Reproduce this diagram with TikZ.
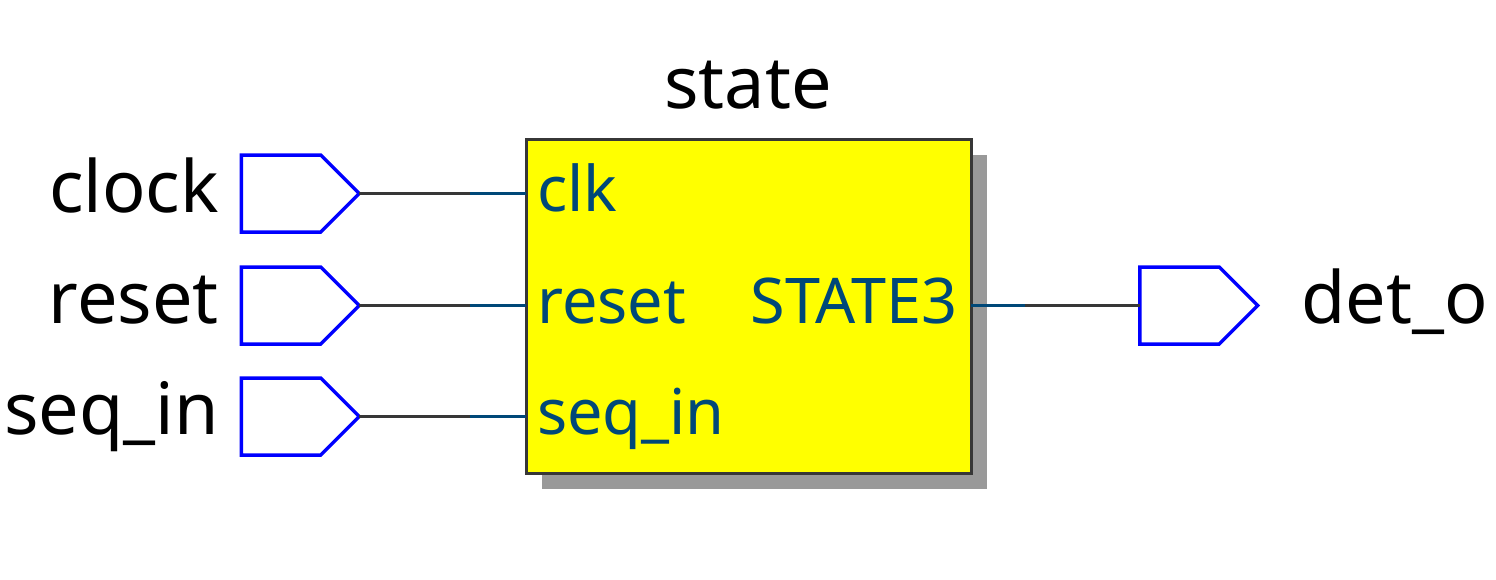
\documentclass[tikz,border=0pt]{standalone}
\usepackage{fontspec}
\setmainfont{Noto Sans}
\usetikzlibrary{shapes.symbols,positioning}
\definecolor{pinblue}{RGB}{0,0,255}
\definecolor{portblue}{RGB}{0,72,120}
\definecolor{wiregrey}{RGB}{55,55,55}
\definecolor{blkyellow}{RGB}{255,255,0}

\begin{document}
\begin{tikzpicture}[x=1pt,y=-1pt,
  pin/.style={draw=pinblue,line width=3.5pt,signal,signal to=east,signal pointer angle=90,
    minimum width=118pt,minimum height=77pt,inner sep=0pt,outer sep=0pt},
  sig/.style={font=\fontsize{72}{82}\selectfont,inner sep=0pt},
  port/.style={font=\fontsize{63}{72}\selectfont,text=portblue,inner sep=0pt},
  wire/.style={draw=wiregrey,line width=3.5pt},
  stub/.style={draw=portblue,line width=3.5pt}]
\useasboundingbox (0,0) rectangle (1496,579);
% block with its shadow
\fill[black!40] (542,155) rectangle (987,489);
\node[draw=wiregrey,fill=blkyellow,line width=3pt,minimum width=445pt,minimum height=334pt,
  inner sep=0pt,outer sep=0pt] (blk) at (748.5,306) {};
\node[sig,anchor=base] (title) at (748,108) {state};
% pins
\node[pin] (pclk) at (281,193.5) {};
\node[pin] (prst) at (281,305.5) {};
\node[pin] (pseq) at (281,416.5) {};
\node[pin] (pdet) at (1179.5,305.5) {};
\node[sig,anchor=base east] (lclk) at (219,212) {clock};
\node[sig,anchor=base east] (lrst) at (219,323) {reset};
\node[sig,anchor=base east] (lseq) at (219,434) {seq\_in};
\node[sig,anchor=base west] (ldet) at (1301,323) {det\_o};
% ports
\coordinate (bclk) at (blk.west |- pclk.east);
\coordinate (brst) at (blk.west |- prst.east);
\coordinate (bseq) at (blk.west |- pseq.east);
\coordinate (bdet) at (blk.east |- pdet.west);
\node[port,anchor=base west] (tclk) at (537,211) {clk};
\node[port,anchor=base west] (trst) at (537,323) {reset};
\node[port,anchor=base west] (tseq) at (537,434) {seq\_in};
\node[port,anchor=base east] (tdet) at (958,323) {STATE3};
% wires
\draw[wire] (pclk.east) -- (bclk);
\draw[wire] (prst.east) -- (brst);
\draw[wire] (pseq.east) -- (bseq);
\draw[wire] (bdet) -- (pdet.west);
\draw[stub] (bclk) -- ++(-56,0);
\draw[stub] (brst) -- ++(-56,0);
\draw[stub] (bseq) -- ++(-56,0);
\draw[stub] (bdet) -- ++(54,0);
\end{tikzpicture}
\end{document}
